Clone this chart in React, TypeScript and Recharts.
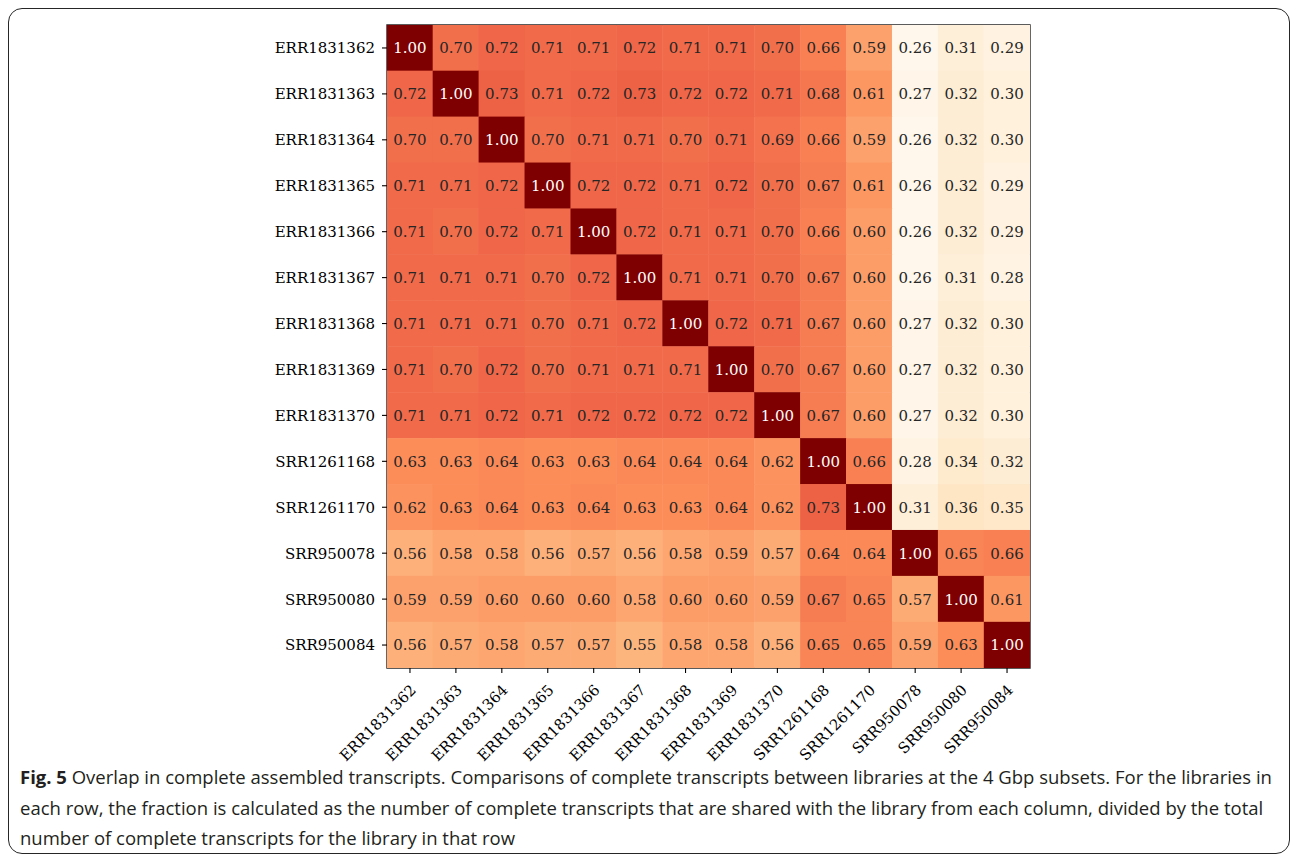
import React from 'react';
import { ScatterChart, Scatter, XAxis, YAxis, ReferenceArea } from 'recharts';

// Library names, shared by rows and columns
const LIBRARIES = [
  'ERR1831362', 'ERR1831363', 'ERR1831364', 'ERR1831365', 'ERR1831366',
  'ERR1831367', 'ERR1831368', 'ERR1831369', 'ERR1831370',
  'SRR1261168', 'SRR1261170', 'SRR950078', 'SRR950080', 'SRR950084',
];

// Fraction of complete transcripts shared, one array per row library
const ROW_ERR1831362 = [1.00, 0.70, 0.72, 0.71, 0.71, 0.72, 0.71, 0.71, 0.70, 0.66, 0.59, 0.26, 0.31, 0.29];
const ROW_ERR1831363 = [0.72, 1.00, 0.73, 0.71, 0.72, 0.73, 0.72, 0.72, 0.71, 0.68, 0.61, 0.27, 0.32, 0.30];
const ROW_ERR1831364 = [0.70, 0.70, 1.00, 0.70, 0.71, 0.71, 0.70, 0.71, 0.69, 0.66, 0.59, 0.26, 0.32, 0.30];
const ROW_ERR1831365 = [0.71, 0.71, 0.72, 1.00, 0.72, 0.72, 0.71, 0.72, 0.70, 0.67, 0.61, 0.26, 0.32, 0.29];
const ROW_ERR1831366 = [0.71, 0.70, 0.72, 0.71, 1.00, 0.72, 0.71, 0.71, 0.70, 0.66, 0.60, 0.26, 0.32, 0.29];
const ROW_ERR1831367 = [0.71, 0.71, 0.71, 0.70, 0.72, 1.00, 0.71, 0.71, 0.70, 0.67, 0.60, 0.26, 0.31, 0.28];
const ROW_ERR1831368 = [0.71, 0.71, 0.71, 0.70, 0.71, 0.72, 1.00, 0.72, 0.71, 0.67, 0.60, 0.27, 0.32, 0.30];
const ROW_ERR1831369 = [0.71, 0.70, 0.72, 0.70, 0.71, 0.71, 0.71, 1.00, 0.70, 0.67, 0.60, 0.27, 0.32, 0.30];
const ROW_ERR1831370 = [0.71, 0.71, 0.72, 0.71, 0.72, 0.72, 0.72, 0.72, 1.00, 0.67, 0.60, 0.27, 0.32, 0.30];
const ROW_SRR1261168 = [0.63, 0.63, 0.64, 0.63, 0.63, 0.64, 0.64, 0.64, 0.62, 1.00, 0.66, 0.28, 0.34, 0.32];
const ROW_SRR1261170 = [0.62, 0.63, 0.64, 0.63, 0.64, 0.63, 0.63, 0.64, 0.62, 0.73, 1.00, 0.31, 0.36, 0.35];
const ROW_SRR950078 = [0.56, 0.58, 0.58, 0.56, 0.57, 0.56, 0.58, 0.59, 0.57, 0.64, 0.64, 1.00, 0.65, 0.66];
const ROW_SRR950080 = [0.59, 0.59, 0.60, 0.60, 0.60, 0.58, 0.60, 0.60, 0.59, 0.67, 0.65, 0.57, 1.00, 0.61];
const ROW_SRR950084 = [0.56, 0.57, 0.58, 0.57, 0.57, 0.55, 0.58, 0.58, 0.56, 0.65, 0.65, 0.59, 0.63, 1.00];

const ROWS = [
  ROW_ERR1831362, ROW_ERR1831363, ROW_ERR1831364, ROW_ERR1831365, ROW_ERR1831366,
  ROW_ERR1831367, ROW_ERR1831368, ROW_ERR1831369, ROW_ERR1831370,
  ROW_SRR1261168, ROW_SRR1261170, ROW_SRR950078, ROW_SRR950080, ROW_SRR950084,
];

const CAPTION_LINES = [
  'Overlap in complete assembled transcripts. Comparisons of complete transcripts between libraries at the 4 Gbp subsets. For the libraries in',
  'each row, the fraction is calculated as the number of complete transcripts that are shared with the library from each column, divided by the total',
  'number of complete transcripts for the library in that row',
];

// Flattened cells for the scatter layer
const cells = ROWS.flatMap((row, r) => row.map((value, c) => ({ col: c, row: r, value })));
const allValues = cells.map((d) => d.value);
const V_MIN = Math.min(...allValues);
const V_MAX = Math.max(...allValues);

// OrRd sequential colour map
const OR_RD = ['#fff7ec', '#fee8c8', '#fdd49e', '#fdbb84', '#fc8d59', '#ef6548', '#d7301f', '#b30000', '#7f0000'];
const hexToRgb = (h: string) => [1, 3, 5].map((i) => parseInt(h.slice(i, i + 2), 16));
const orRdRgb = (v: number) => {
  const t = Math.max(0, Math.min(1, (v - V_MIN) / (V_MAX - V_MIN)));
  const pos = t * (OR_RD.length - 1);
  const i = Math.min(OR_RD.length - 2, Math.floor(pos));
  const f = pos - i;
  const a = hexToRgb(OR_RD[i]);
  const b = hexToRgb(OR_RD[i + 1]);
  return a.map((x, k) => Math.round(x + (b[k] - x) * f));
};
const orRd = (v: number) => {
  const rgb = orRdRgb(v);
  return `rgb(${rgb[0]},${rgb[1]},${rgb[2]})`;
};
const luminance = (v: number) => {
  const m = orRdRgb(v).map((x) => {
    const s = x / 255;
    return s <= 0.03928 ? s / 12.92 : Math.pow((s + 0.055) / 1.055, 2.4);
  });
  return 0.2126 * m[0] + 0.7152 * m[1] + 0.0722 * m[2];
};

const WIDTH = 1296;
const HEIGHT = 860;
const MARGIN = { top: 25, right: 266, bottom: 0, left: 0 };
const Y_AXIS_W = 387;
const X_AXIS_H = 192;
const PLOT_W = WIDTH - MARGIN.left - MARGIN.right - Y_AXIS_W;
const PLOT_H = HEIGHT - MARGIN.top - MARGIN.bottom - X_AXIS_H;
const N = LIBRARIES.length;
const CELL_W = PLOT_W / N;
const CELL_H = PLOT_H / N;

const SERIF = '"DejaVu Serif", serif';
const SANS = '"Open Sans", "Noto Sans", sans-serif';

const HeatCell = (props: any) => {
  const { cx, cy, payload } = props;
  const v = payload.value as number;
  return (
    <g>
      <rect
        x={cx - CELL_W / 2 - 0.25}
        y={cy - CELL_H / 2 - 0.25}
        width={CELL_W + 0.5}
        height={CELL_H + 0.5}
        fill={orRd(v)}
      />
      <text
        x={cx}
        y={cy}
        dy="0.36em"
        textAnchor="middle"
        fontFamily={SERIF}
        fontSize={15}
        fill={luminance(v) > 0.15 ? '#262626' : '#ffffff'}
      >
        {v.toFixed(2)}
      </text>
    </g>
  );
};

const XTick = (props: any) => {
  const { x, y, payload } = props;
  const px = x + 7;
  const py = y + 16;
  return (
    <text
      x={px}
      y={py}
      transform={`rotate(-45, ${px}, ${py})`}
      textAnchor="end"
      fontFamily={SERIF}
      fontSize={15}
      fill="#000"
    >
      {LIBRARIES[payload.value]}
    </text>
  );
};

const YTick = (props: any) => {
  const { x, y, payload } = props;
  return (
    <text x={x - 5} y={y} dy="0.36em" textAnchor="end" fontFamily={SERIF} fontSize={15} fill="#000">
      {LIBRARIES[payload.value]}
    </text>
  );
};

const idx = LIBRARIES.map((_, i) => i);

export default function App() {
  return (
    <div style={{ position: 'absolute', left: 0, top: 0, width: WIDTH, height: HEIGHT, background: '#fff' }}>
      <div
        style={{
          position: 'absolute',
          left: 8,
          top: 8,
          width: 1282,
          height: 846,
          boxSizing: 'border-box',
          border: '1.6px solid #262626',
          borderRadius: 14,
        }}
      />
      <div style={{ position: 'absolute', left: 0, top: 0 }}>
        <ScatterChart width={WIDTH} height={HEIGHT} margin={MARGIN}>
          <XAxis
            type="number"
            dataKey="col"
            domain={[-0.5, N - 0.5]}
            ticks={idx}
            interval={0}
            height={X_AXIS_H}
            tick={<XTick />}
            tickSize={5}
            tickLine={{ stroke: '#000', strokeWidth: 1.1 }}
            axisLine={false}
            allowDataOverflow
          />
          <YAxis
            type="number"
            dataKey="row"
            domain={[-0.5, N - 0.5]}
            reversed
            ticks={idx}
            interval={0}
            width={Y_AXIS_W}
            tick={<YTick />}
            tickSize={5}
            tickLine={{ stroke: '#000', strokeWidth: 1.1 }}
            axisLine={false}
            allowDataOverflow
          />
          <Scatter data={cells} shape={<HeatCell />} isAnimationActive={false} />
          <ReferenceArea
            x1={-0.5}
            x2={N - 0.5}
            y1={-0.5}
            y2={N - 0.5}
            fill="none"
            fillOpacity={0}
            stroke="#262626"
            strokeWidth={1.4}
          />
        </ScatterChart>
      </div>
      <svg
        width={WIDTH}
        height={120}
        style={{ position: 'absolute', left: 0, top: 750 }}
      >
        {CAPTION_LINES.map((line, i) => (
          <text key={i} x={20} y={34 + i * 30.5} fontFamily={SANS} fontSize={18.5} fill="#231f20">
            {i === 0 ? <tspan fontWeight="bold">Fig. 5 </tspan> : null}
            {line}
          </text>
        ))}
      </svg>
    </div>
  );
}
